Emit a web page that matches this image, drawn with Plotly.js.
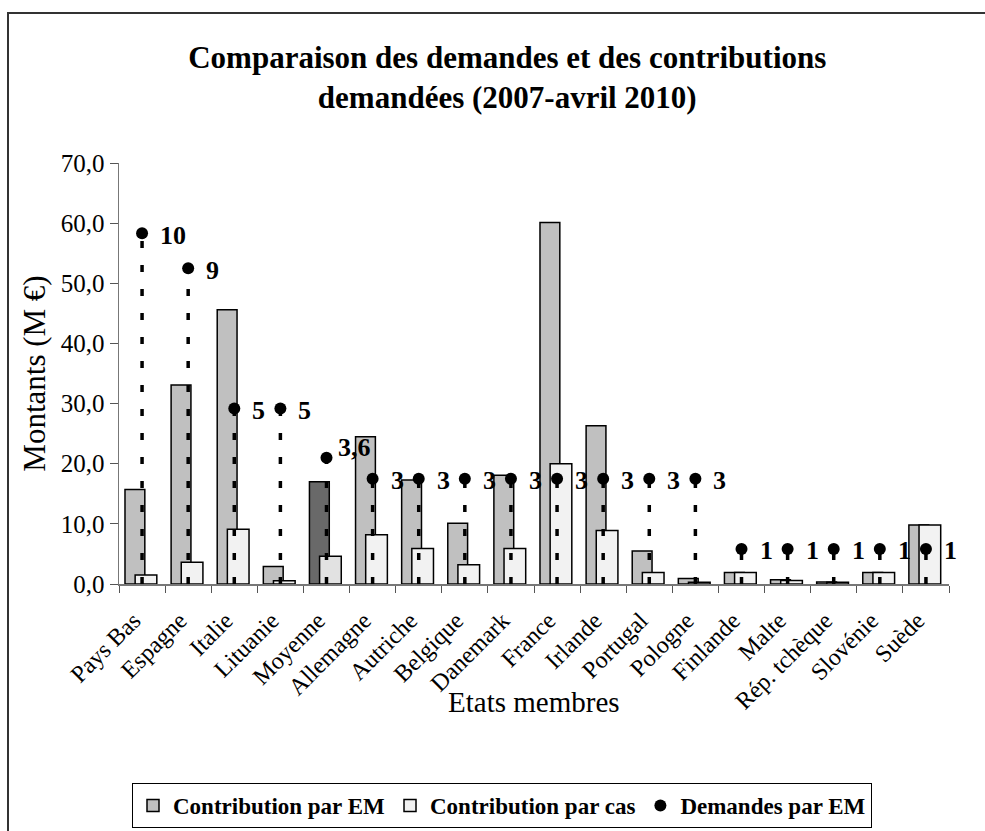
<!DOCTYPE html>
<html>
<head>
<meta charset="utf-8">
<script src="https://cdn.plot.ly/plotly-3.0.1.min.js"></script>
<style>html,body{margin:0;padding:0;background:#fff;}#chart{width:985px;height:831px;}</style>
</head>
<body>
<div id="chart"></div>
<script>
// ---- data ----
var categories = ["Pays Bas","Espagne","Italie","Lituanie","Moyenne","Allemagne","Autriche","Belgique","Danemark","France","Irlande","Portugal","Pologne","Finlande","Malte","Rép. tchèque","Slovénie","Suède"];
var contributionParEM = [15.7,33.1,45.6,2.9,17.0,24.5,17.3,10.1,18.1,60.1,26.3,5.5,0.9,1.9,0.7,0.35,1.9,9.8];
var contributionParCas = [1.5,3.6,9.1,0.55,4.6,8.2,5.9,3.2,5.9,20.0,8.9,1.9,0.3,1.9,0.6,0.3,1.9,9.8];
var demandesParEM = [10,9,5,5,3.6,3,3,3,3,3,3,3,3,1,1,1,1,1];
var yTicks = [0,10,20,30,40,50,60,70];

var FONT = '"Liberation Serif", "Times New Roman", serif';
var avgIdx = categories.indexOf("Moyenne");

var greyColors = categories.map(function(c,i){ return i===avgIdx ? '#696969' : '#c0c0c0'; });
var whiteColors = categories.map(function(c,i){ return i===avgIdx ? '#e2e2e2' : '#f2f2f2'; });

var traces = [];
traces.push({
  type:'bar', name:'Contribution par EM', x:categories, y:contributionParEM,
  offset:-0.37, width:0.43,
  marker:{color:greyColors, line:{color:'#000', width:1.5}},
  hoverinfo:'x+y'
});
traces.push({
  type:'bar', name:'Contribution par cas', x:categories, y:contributionParCas,
  offset:-0.15, width:0.47,
  marker:{color:whiteColors, line:{color:'#000', width:1.5}},
  hoverinfo:'x+y'
});
// drop lines
var lx=[], ly=[];
categories.forEach(function(c,i){ lx.push(c,c,null); ly.push(0,demandesParEM[i],null); });
traces.push({
  type:'scatter', mode:'lines', x:lx, y:ly, yaxis:'y2', showlegend:false, hoverinfo:'skip',
  line:{color:'#000', width:3.5, dash:'7px,17px'}
});
traces.push({
  type:'scatter', mode:'markers', name:'Demandes par EM', x:categories, y:demandesParEM, yaxis:'y2',
  marker:{color:'#000', size:12, symbol:'circle'}
});

var annotations = categories.map(function(c,i){
  var isAvg = (i===avgIdx);
  return {
    x:c, y:demandesParEM[i], xref:'x', yref:'y2',
    text:String(demandesParEM[i]).replace('.',','),
    showarrow:false, xanchor:'left', yanchor:'middle',
    xshift: isAvg ? 9 : 16, yshift: isAvg ? 10 : -2,
    font:{family:FONT, size:26, color:'#000', weight:'bold'}
  };
});

// plot area: x 119..949, y 163..584
var L=119, R=949, T=163, B=584, W=985, H=831;
function px2paperX(p){ return (p-L)/(R-L); }
function px2paperY(p){ return (B-p)/(B-T); }

annotations.push({
  text:'Etats membres', xref:'paper', yref:'paper', x:0.5, y:px2paperY(702),
  xanchor:'center', yanchor:'middle', showarrow:false,
  font:{family:FONT, size:29, color:'#000'}
});

// tick labels padded so the rotated text ends a little before the category centre
var tickText = categories.map(function(c){ return c + '\u00a0\u00a0'; });

var layout = {
  width:W, height:H,
  margin:{l:L, r:W-R, t:T, b:H-B, pad:0, autoexpand:false},
  paper_bgcolor:'#fff', plot_bgcolor:'#fff',
  separators:', ',
  font:{family:FONT, color:'#000'},
  title:{
    text:'<b>Comparaison des demandes et des contributions<br>demandées (2007-avril 2010)</b>',
    font:{family:FONT, size:31, color:'#000'},
    x:0.515, xanchor:'center', y:0.918, yanchor:'top', yref:'container'
  },
  barmode:'overlay',
  showlegend:true,
  legend:{
    orientation:'h', x:px2paperX(132), y:px2paperY(783), xanchor:'left', yanchor:'top',
    bordercolor:'#000', borderwidth:1, bgcolor:'#fff',
    font:{family:FONT, size:23, color:'#000', weight:'bold'},
    itemwidth:30, traceorder:'normal'
  },
  xaxis:{
    type:'category', range:[-0.5, categories.length-0.5], automargin:false,
    tickmode:'array', tickvals:categories, ticktext:tickText,
    tickangle:-45, tickfont:{family:FONT, size:24, color:'#000'},
    ticks:'outside', ticklen:7, tickcolor:'#555', tickson:'boundaries',
    ticklabelstandoff:3,
    showline:true, linecolor:'#777', linewidth:1.5, showgrid:false, zeroline:false
  },
  yaxis:{
    range:[0,70], tickvals:yTicks, tickformat:'.1f', automargin:false,
    tickfont:{family:FONT, size:25, color:'#000'},
    ticks:'outside', ticklen:8, tickcolor:'#555',
    showline:true, linecolor:'#777', linewidth:1.5, showgrid:false, zeroline:false,
    title:{text:'Montants (M €)', font:{family:FONT, size:31, color:'#000'}, standoff:6}
  },
  yaxis2:{range:[0,12], overlaying:'y', side:'right', visible:false, automargin:false},
  annotations:annotations,
  shapes:[{type:'rect', xref:'paper', yref:'paper',
    x0:px2paperX(8), x1:px2paperX(1000), y0:px2paperY(900), y1:px2paperY(13),
    line:{color:'#333', width:2}, fillcolor:'rgba(0,0,0,0)', layer:'below'}]
};

Plotly.newPlot('chart', traces, layout, {displayModeBar:false, staticPlot:true});
</script>
</body>
</html>
